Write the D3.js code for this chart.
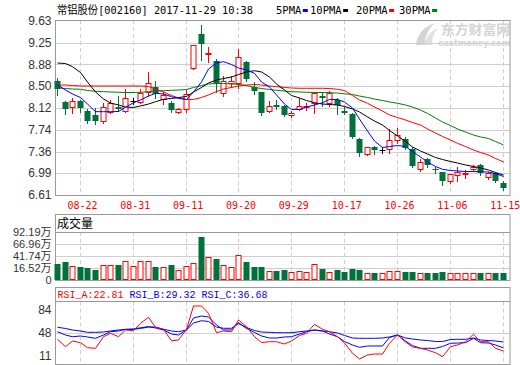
<!DOCTYPE html>
<html><head><meta charset="utf-8">
<script src="https://cdn.jsdelivr.net/npm/d3@7"></script>
<style>body{margin:0;background:#fff}svg{display:block}</style>
</head><body>
<svg id="c" width="520" height="365"></svg>
<script>
// ---------------- data ----------------
const title = "常铝股份[002160] 2017-11-29 10:38";
const maNames = ["5PMA", "10PMA", "20PMA", "30PMA"];
const dates = ["08-17","08-18","08-21","08-22","08-23","08-24","08-25","08-28","08-29","08-30",
 "08-31","09-01","09-04","09-05","09-06","09-07","09-08","09-11","09-12","09-13",
 "09-14","09-15","09-18","09-19","09-20","09-21","09-22","09-25","09-26","09-27",
 "09-28","09-29","10-09","10-10","10-11","10-12","10-13","10-16","10-17","10-18",
 "10-19","10-20","10-23","10-24","10-25","10-26","10-27","10-30","10-31","11-01",
 "11-02","11-03","11-06","11-07","11-08","11-09","11-10","11-13","11-14","11-15"];
const open = [8.589,8.224,8.132,8.233,8.068,7.999,7.886,8.056,8.132,8.068,
 8.233,8.229,8.398,8.485,8.268,8.207,8.059,8.097,8.809,9.413,
 9.061,8.936,8.386,8.559,8.559,8.924,8.479,8.403,8.073,8.172,
 8.155,8.007,8.097,8.143,8.202,8.328,8.202,8.259,8.073,8.016,
 7.582,7.316,7.438,7.391,7.403,7.565,7.582,7.408,7.056,7.230,
 7.061,7.004,6.858,6.957,6.975,7.056,7.131,6.917,6.997,6.813];
const high = [8.646,8.233,8.302,8.254,8.094,8.115,8.207,8.259,8.328,8.445,
 8.288,8.445,8.745,8.597,8.406,8.242,8.115,8.424,9.222,9.569,
 9.184,8.965,8.675,8.675,9.144,8.941,8.576,8.406,8.242,8.259,
 8.172,8.073,8.288,8.202,8.403,8.403,8.415,8.288,8.132,8.028,
 7.605,7.443,7.460,7.438,7.750,7.768,7.622,7.438,7.230,7.247,
 7.101,7.014,6.975,7.091,7.044,7.131,7.148,7.014,7.014,6.858];
const low = [8.346,8.016,8.038,8.056,7.868,7.834,7.868,8.028,8.073,8.042,
 8.181,8.202,8.328,8.294,8.189,8.051,8.028,8.042,8.802,8.953,
 8.924,8.403,8.328,8.490,8.462,8.594,8.363,7.999,8.056,8.097,
 7.981,7.959,8.085,8.085,8.028,8.155,8.155,8.011,8.011,7.594,
 7.292,7.304,7.322,7.334,7.344,7.518,7.403,7.101,7.032,7.101,
 6.987,6.784,6.813,6.858,6.900,7.044,6.957,6.883,6.830,6.697];
const close = [8.458,8.097,8.242,8.115,7.903,7.900,8.129,8.212,8.103,8.288,
 8.233,8.375,8.549,8.358,8.354,8.085,8.097,8.363,9.213,9.239,
 9.075,8.549,8.589,8.589,9.010,8.623,8.420,8.038,8.160,8.143,
 7.999,8.028,8.155,8.160,8.386,8.288,8.386,8.172,8.028,7.622,
 7.344,7.438,7.391,7.391,7.565,7.651,7.431,7.113,7.188,7.131,
 7.049,6.858,6.969,7.014,6.992,7.101,6.997,6.987,6.858,6.726];
const ma5 = [8.519,8.432,8.363,8.302,8.189,8.056,8.056,8.056,8.059,8.132,
 8.212,8.259,8.328,8.375,8.363,8.316,8.288,8.268,8.398,8.571,
 8.797,8.901,8.924,8.875,8.814,8.780,8.722,8.571,8.485,8.346,
 8.189,8.094,8.097,8.137,8.172,8.212,8.268,8.268,8.224,8.120,
 7.929,7.721,7.547,7.434,7.452,7.469,7.452,7.362,7.270,7.183,
 7.105,7.056,7.035,7.027,7.018,7.018,7.014,7.009,6.983,6.931];
const ma10 = [8.901,8.892,8.837,8.736,8.571,8.398,8.276,8.207,8.172,8.137,
 8.129,8.155,8.189,8.229,8.271,8.285,8.302,8.320,8.398,8.476,
 8.554,8.606,8.632,8.658,8.701,8.745,8.767,8.745,8.658,8.537,
 8.432,8.337,8.294,8.250,8.212,8.189,8.181,8.172,8.146,8.103,
 8.051,7.964,7.894,7.825,7.730,7.634,7.539,7.443,7.374,7.322,
 7.261,7.226,7.191,7.165,7.131,7.105,7.079,7.044,7.001,6.957];
const ma20 = [8.519,8.519,8.511,8.502,8.502,8.502,8.502,8.502,8.502,8.502,
 8.502,8.502,8.493,8.450,8.398,8.337,8.294,8.268,8.268,8.302,
 8.346,8.406,8.450,8.476,8.502,8.519,8.528,8.519,8.502,8.490,
 8.476,8.467,8.462,8.462,8.462,8.462,8.458,8.445,8.424,8.337,
 8.259,8.202,8.137,8.068,7.999,7.955,7.912,7.868,7.825,7.756,
 7.686,7.625,7.565,7.507,7.452,7.391,7.348,7.304,7.244,7.183];
const ma30 = [8.467,8.458,8.450,8.445,8.424,8.410,8.403,8.398,8.393,8.389,
 8.389,8.393,8.403,8.415,8.420,8.427,8.432,8.441,8.476,8.511,
 8.537,8.545,8.545,8.537,8.528,8.511,8.476,8.458,8.441,8.427,
 8.415,8.403,8.398,8.393,8.389,8.389,8.386,8.380,8.366,8.354,
 8.328,8.302,8.276,8.250,8.224,8.202,8.172,8.137,8.085,8.025,
 7.946,7.877,7.816,7.756,7.703,7.651,7.617,7.591,7.539,7.478];
const volume = [24.9,29.1,20.1,18.6,16.5,12.3,22.2,22.2,22.8,30.6,
 20.1,30.6,30.6,18.6,18.6,22.8,12.3,20.1,26.4,81.7,
 39.0,35.4,22.2,18.0,43.2,29.1,18.6,18.6,9.6,10.2,
 12.3,7.5,9.6,7.5,24.3,14.4,7.5,12.3,8.1,14.4,
 12.3,5.4,6.0,5.4,9.6,9.6,8.1,8.1,5.4,6.0,
 6.0,8.1,5.4,5.4,5.4,5.4,6.0,5.4,6.0,6.0];
const rsiA = [37.6,25.9,34.9,32.2,24.3,23.3,41.7,47.1,41.7,52.4,
 51.3,63.0,72.5,56.7,53.5,35.4,36.5,53.5,90.5,90.5,
 78.9,48.1,50.8,49.7,68.3,57.6,41.7,32.5,33.8,33.8,
 30.2,34.9,43.7,47.1,61.4,53.5,49.7,41.7,31.7,15.4,
 6.3,12.7,14.3,14.3,31.3,44.4,33.3,25.4,23.3,20.6,
 16.3,10.0,25.9,28.6,33.8,45.6,33.8,33.8,23.3,19.0];
const rsiB = [49.7,44.4,41.7,42.9,41.3,39.2,44.4,49.7,50.8,53.5,
 54.0,56.0,57.6,55.6,52.4,46.0,44.4,52.4,71.4,74.6,
 73.0,60.3,52.4,52.4,64.0,54.8,48.4,42.9,39.7,39.7,
 41.3,41.7,46.0,49.7,52.4,50.8,46.0,41.7,34.1,28.6,
 24.9,27.0,27.0,27.0,40.5,44.4,34.9,27.8,23.3,23.3,
 23.3,26.2,31.3,31.7,32.2,39.2,32.2,31.7,28.6,24.0];
const rsiC = [56.7,54.8,52.4,50.8,48.7,48.7,49.2,50.8,52.4,53.2,
 53.5,54.8,57.1,57.1,53.5,50.8,49.7,52.4,63.5,67.1,
 65.9,57.1,55.1,55.1,62.7,56.3,51.6,49.2,48.7,48.1,
 48.1,48.1,49.7,50.8,52.4,50.8,49.7,47.6,43.7,39.7,
 39.2,39.2,39.2,39.7,41.3,44.4,39.7,38.1,36.5,35.7,
 34.1,34.1,37.3,37.6,37.6,39.7,36.5,35.7,34.9,33.3];
const priceTicks = [6.61, 6.99, 7.36, 7.74, 8.12, 8.50, 8.88, 9.25, 9.63];
const dateTicks = ["08-22","08-31","09-11","09-20","09-29","10-17","10-26","11-06","11-15"];
const volTicks = [16.52, 41.74, 66.96, 92.19];
const rsiTicks = [11, 48, 84];
const rsiNames = ["RSI_A", "RSI_B", "RSI_C"];
const rsiLast = [22.81, 29.32, 36.68];

// ---------------- drawing ----------------
const RED = "#ff0000", GREEN = "#00703c", BLUE = "#0000ff";
const GRID = "#cfcfcf", BORDER = "#9a9a9a";
const svg = d3.select("#c");
const LEFT = 55.5, RIGHT = 510;

const x = d3.scaleBand().domain(dates).range([54, 507]);
const cx = d => Math.floor(x(d) + x.bandwidth() / 2) + 0.5;

const P = {top: 20, bottom: 195};
const V = {box: 214, top: 232, bottom: 280};
const Q = {box: 287, top: 301.5, bottom: 364};

const yP = d3.scaleLinear().domain([priceTicks[0], priceTicks[priceTicks.length - 1]]).range([P.bottom, 21]);
const volFloor = volTicks[0] - (volTicks[1] - volTicks[0]);
const yV = d3.scaleLinear().domain([volFloor, volTicks[volTicks.length - 1]]).range([V.bottom, V.top]);
const yR = d3.scaleLinear().domain([0, 100]).range([363, 300]);

const crisp = v => Math.round(v) + 0.5;

// watermark
const wm = svg.append("g").attr("fill", "#d4d4d4");
wm.append("path").attr("d", "M416,45 C417,35 423,27 435,23 C428,29 425,36 425,45 Z");
wm.append("path").attr("d", "M424,45 C426,37 431,31 438,28 C434,33 432,38 432,45 Z").attr("fill", "#e0e0e0");
wm.append("text").attr("x", 441).attr("y", 34).attr("font-family", "Noto Sans CJK SC")
  .attr("font-weight", "bold").attr("font-size", 13).attr("textLength", 69).attr("lengthAdjust", "spacingAndGlyphs").text("东方财富网");
wm.append("text").attr("x", 438).attr("y", 45.5).attr("font-family", "DejaVu Sans")
  .attr("font-weight", "bold").attr("font-size", 8).attr("textLength", 72).attr("lengthAdjust", "spacingAndGlyphs").text("eastmoney.com");

// grid
function vgrid(y0, y1) {
  svg.append("g").selectAll("line").data(dateTicks).join("line")
    .attr("x1", d => cx(d)).attr("x2", d => cx(d)).attr("y1", y0).attr("y2", y1)
    .attr("stroke", GRID).attr("stroke-dasharray", "4,3");
}
vgrid(P.top, P.bottom); vgrid(V.top, V.bottom); vgrid(Q.top, Q.bottom);

svg.append("g").selectAll("line").data(priceTicks.slice(1, -1)).join("line")
  .attr("x1", LEFT).attr("x2", RIGHT).attr("y1", d => crisp(yP(d))).attr("y2", d => crisp(yP(d)))
  .attr("stroke", GRID);
svg.append("g").selectAll("line").data(volTicks.slice(0, -1)).join("line")
  .attr("x1", LEFT).attr("x2", RIGHT).attr("y1", d => crisp(yV(d))).attr("y2", d => crisp(yV(d)))
  .attr("stroke", GRID);
svg.append("g").selectAll("line").data([48]).join("line")
  .attr("x1", LEFT).attr("x2", RIGHT).attr("y1", d => crisp(yR(d))).attr("y2", d => crisp(yR(d)))
  .attr("stroke", GRID);

// borders
function frame(y0, y1) {
  svg.append("rect").attr("x", LEFT).attr("y", y0 + 0.5).attr("width", RIGHT - LEFT).attr("height", y1 - y0)
    .attr("fill", "none").attr("stroke", BORDER);
}
frame(P.top, P.bottom);
frame(V.box, V.bottom);
frame(Q.box, Q.bottom);
svg.append("line").attr("x1", LEFT).attr("x2", RIGHT).attr("y1", V.top + 0.5).attr("y2", V.top + 0.5).attr("stroke", BORDER);
svg.append("line").attr("x1", LEFT).attr("x2", RIGHT).attr("y1", Q.top).attr("y2", Q.top).attr("stroke", BORDER);

// data objects
const data = dates.map((d, i) => ({d, o: open[i], h: high[i], l: low[i], c: close[i], v: volume[i]}));
const candleColor = k => k.c > k.o ? RED : (k.c < k.o ? GREEN : "#000");

// candles
const cg = svg.append("g");
cg.selectAll("line.wick").data(data).join("line").attr("class", "wick")
  .attr("x1", k => cx(k.d)).attr("x2", k => cx(k.d))
  .attr("y1", k => Math.round(yP(k.h))).attr("y2", k => Math.round(yP(k.l)) + 1)
  .attr("stroke", candleColor);
cg.selectAll("rect.dn").data(data.filter(k => k.c < k.o)).join("rect").attr("class", "dn")
  .attr("x", k => cx(k.d) - 3).attr("width", 6)
  .attr("y", k => Math.round(yP(k.o)))
  .attr("height", k => Math.max(1, Math.round(yP(k.c)) - Math.round(yP(k.o))))
  .attr("fill", GREEN);
cg.selectAll("rect.up").data(data.filter(k => k.c > k.o)).join("rect").attr("class", "up")
  .attr("x", k => cx(k.d) - 2.5).attr("width", 5)
  .attr("y", k => Math.round(yP(k.c)) + 0.5)
  .attr("height", k => Math.max(1, Math.round(yP(k.o)) - Math.round(yP(k.c))))
  .attr("fill", "#fff").attr("stroke", RED);
cg.selectAll("line.doji").data(data.filter(k => k.c === k.o)).join("line").attr("class", "doji")
  .attr("x1", k => cx(k.d) - 3).attr("x2", k => cx(k.d) + 3)
  .attr("y1", k => crisp(yP(k.o))).attr("y2", k => crisp(yP(k.o)))
  .attr("stroke", "#000");

// moving averages
const line = d3.line().x((v, i) => cx(dates[i])).y(v => yP(v));
[[ma30, "#008000"], [ma20, RED], [ma10, "#000"], [ma5, BLUE]].forEach(([arr, col]) => {
  svg.append("path").attr("d", line(arr)).attr("fill", "none").attr("stroke", col).attr("stroke-width", 1);
});

// volume bars
const vg = svg.append("g");
vg.selectAll("rect.vd").data(data.filter(k => k.c < k.o)).join("rect").attr("class", "vd")
  .attr("x", k => cx(k.d) - 3).attr("width", 6)
  .attr("y", k => Math.round(yV(k.v))).attr("height", k => V.bottom - Math.round(yV(k.v)))
  .attr("fill", GREEN);
vg.selectAll("rect.vu").data(data.filter(k => k.c >= k.o)).join("rect").attr("class", "vu")
  .attr("x", k => cx(k.d) - 2.5).attr("width", 5)
  .attr("y", k => Math.round(yV(k.v)) + 0.5).attr("height", k => V.bottom - 1 - Math.round(yV(k.v)))
  .attr("fill", "#fff").attr("stroke", RED);

// RSI lines
[[rsiC, BLUE], [rsiB, BLUE], [rsiA, RED]].forEach(([arr, col]) => {
  svg.append("path").attr("d", d3.line().x((v, i) => cx(dates[i])).y(v => yR(v))(arr))
    .attr("fill", "none").attr("stroke", col).attr("stroke-width", 1);
});

// axes
const numFont = "Liberation Sans, Arial, sans-serif";
function styleAxis(g, font, size, color) {
  g.select(".domain").remove();
  g.selectAll(".tick line").remove();
  g.selectAll("text").attr("font-family", font).attr("font-size", size).attr("fill", color);
}
svg.append("g").attr("transform", `translate(${LEFT},0)`)
  .call(d3.axisLeft(yP).tickValues(priceTicks).tickFormat(d3.format(".2f")).tickSize(0).tickPadding(4))
  .call(g => styleAxis(g, numFont, 12, "#333"));
svg.append("g").attr("transform", `translate(${LEFT},0)`)
  .call(d3.axisLeft(yV).tickValues([volFloor].concat(volTicks))
    .tickFormat(d => d === volFloor ? "0" : d3.format(".2f")(d) + "万").tickSize(0).tickPadding(4))
  .call(g => styleAxis(g, numFont + ", Noto Sans CJK SC", 11, "#333"));
svg.append("g").attr("transform", `translate(${LEFT},0)`)
  .call(d3.axisLeft(yR).tickValues(rsiTicks).tickSize(0).tickPadding(4))
  .call(g => styleAxis(g, numFont, 12, "#333"));
svg.append("g").attr("transform", `translate(0,${P.bottom})`)
  .call(d3.axisBottom(x).tickValues(dateTicks).tickSize(0).tickPadding(7))
  .call(g => { styleAxis(g, "DejaVu Sans Mono, monospace", 10, RED); g.selectAll("text").attr("dx", 2); });

// title
svg.append("text").attr("x", 57).attr("y", 13.5)
  .attr("font-family", "DejaVu Sans Mono, Noto Sans CJK SC").attr("font-size", 11)
  .attr("textLength", 196).attr("lengthAdjust", "spacingAndGlyphs").attr("fill", "#000").text(title);

// MA legend
const legX = [276, 310, 356, 399];
const maColors = [BLUE, "#000", RED, "#008000"];
maNames.forEach((n, i) => {
  const t = svg.append("text").attr("x", legX[i]).attr("y", 13.5)
    .attr("font-family", "DejaVu Sans Mono, monospace").attr("font-size", 10.5).attr("fill", "#000").text(n);
  const w = t.node().getComputedTextLength();
  svg.append("rect").attr("x", legX[i] + w + 1.5).attr("y", 9).attr("width", 5).attr("height", 3).attr("fill", maColors[i]);
});

// volume header
svg.append("text").attr("x", 57).attr("y", 228).attr("font-family", "Noto Sans CJK SC")
  .attr("font-size", 12).attr("fill", "#000").text("成交量");

// RSI header
const rh = svg.append("text").attr("x", 57.5).attr("y", 298)
  .attr("font-family", "Liberation Mono, DejaVu Sans Mono, monospace").attr("font-size", 10).attr("xml:space", "preserve");
rsiNames.forEach((n, i) => {
  rh.append("tspan").attr("fill", i === 0 ? RED : BLUE).text((i ? " " : "") + n + ":" + rsiLast[i].toFixed(2));
});
</script>
</body></html>
